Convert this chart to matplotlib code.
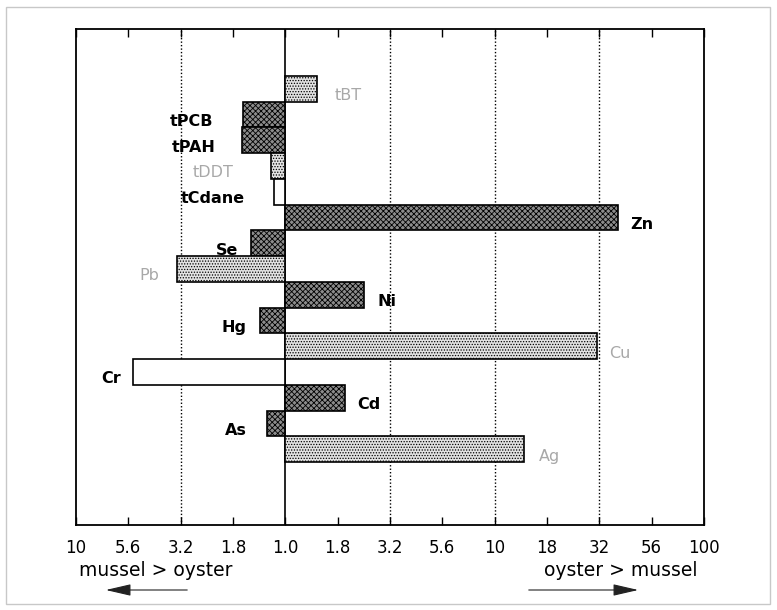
import numpy as np
import matplotlib
matplotlib.use('Agg')
import matplotlib.pyplot as plt
from matplotlib.patches import Rectangle, FancyArrowPatch

# log10(oyster / mussel) ratio for each contaminant, top to bottom
analytes = ['tBT', 'tPCB', 'tPAH', 'tDDT', 'tCdane', 'Zn', 'Se', 'Pb',
            'Ni', 'Hg', 'Cu', 'Cr', 'Cd', 'As', 'Ag']
log_ratio = [0.152, -0.200, -0.208, -0.067, -0.056, 1.588, -0.163, -0.519,
             0.378, -0.121, 1.489, -0.727, 0.283, -0.087, 1.141]
shade = ['light', 'dark', 'dark', 'light', 'white', 'dark', 'dark', 'light',
         'dark', 'dark', 'light', 'white', 'dark', 'dark', 'light']

tick_pos = [-1.0, -0.75, -0.5, -0.25, 0.0, 0.25, 0.5, 0.75, 1.0, 1.25, 1.5, 1.75, 2.0]
tick_lab = ['10', '5.6', '3.2', '1.8', '1.0', '1.8', '3.2', '5.6', '10', '18', '32', '56', '100']

# gap between bar end and its label, in pixels
pad = {'tBT': 17, 'tPCB': 30, 'tPAH': 26, 'tDDT': 38, 'tCdane': 29, 'Zn': 12,
       'Se': 13, 'Pb': 17, 'Ni': 13, 'Hg': 14, 'Cu': 12, 'Cr': 12, 'Cd': 13,
       'As': 20, 'Ag': 15}

style = {
    'dark': dict(facecolor='#8c8c8c', hatch='xxxxxx', label='black', weight='bold'),
    'light': dict(facecolor='#e2e2e2', hatch='......', label='#a8a8a8', weight='normal'),
    'white': dict(facecolor='white', hatch=None, label='black', weight='bold'),
}

plt.rcParams['hatch.linewidth'] = 0.6
plt.rcParams['hatch.color'] = '#333333'

fig = plt.figure(figsize=(7.77, 6.10), dpi=100)
ax = fig.add_axes([76/777, 85/610, 628/777, 496/610])

for i, (name, v, s) in enumerate(zip(analytes, log_ratio, shade)):
    st = style[s]
    ax.barh(i, v, height=1.0, left=0, facecolor=st['facecolor'], edgecolor='black',
            linewidth=1.2, hatch=st['hatch'], zorder=3)
    off = pad[name] * 0.72
    ax.annotate(name, xy=(v, i + 0.27), xytext=(off if v > 0 else -off, 0),
                textcoords='offset points', ha='left' if v > 0 else 'right',
                va='center', fontsize=11.5, color=st['label'],
                fontweight=st['weight'], zorder=4)

for gx in [-0.5, 0.5, 1.0, 1.5]:
    ax.axvline(gx, color='black', linestyle=(0, (1, 1.5)), linewidth=1.0, zorder=1)
ax.axvline(0, color='black', linewidth=1.2, zorder=2)

ax.set_xlim(-1, 2)
ax.set_ylim(16.94, -2.32)
ax.set_yticks([])
ax.set_xticks(tick_pos)
ax.set_xticklabels(tick_lab, fontsize=12, color='black')
ax.tick_params(axis='x', direction='in', length=6, width=1, top=True, pad=10)
for sp in ax.spines.values():
    sp.set_linewidth(1.3)

fig.text(79/777, 1 - 571/610, 'mussel > oyster', fontsize=13.5, ha='left', va='center')
fig.text(698/777, 1 - 571/610, 'oyster > mussel', fontsize=13.5, ha='right', va='center')

arrow = dict(arrowstyle='-|>,head_length=1.3,head_width=0.3', color='#222222', lw=0.8)
fig.add_artist(FancyArrowPatch((190/777, 1 - 590/610), (103/777, 1 - 590/610),
               transform=fig.transFigure, mutation_scale=12, **arrow))
fig.add_artist(FancyArrowPatch((526/777, 1 - 590/610), (641/777, 1 - 590/610),
               transform=fig.transFigure, mutation_scale=12, **arrow))

fig.add_artist(Rectangle((6/777, 6/610), 764/777, 597/610, transform=fig.transFigure,
                         fill=False, edgecolor='#c8c8c8', linewidth=1.0))

fig.savefig('out.png', dpi=100)
